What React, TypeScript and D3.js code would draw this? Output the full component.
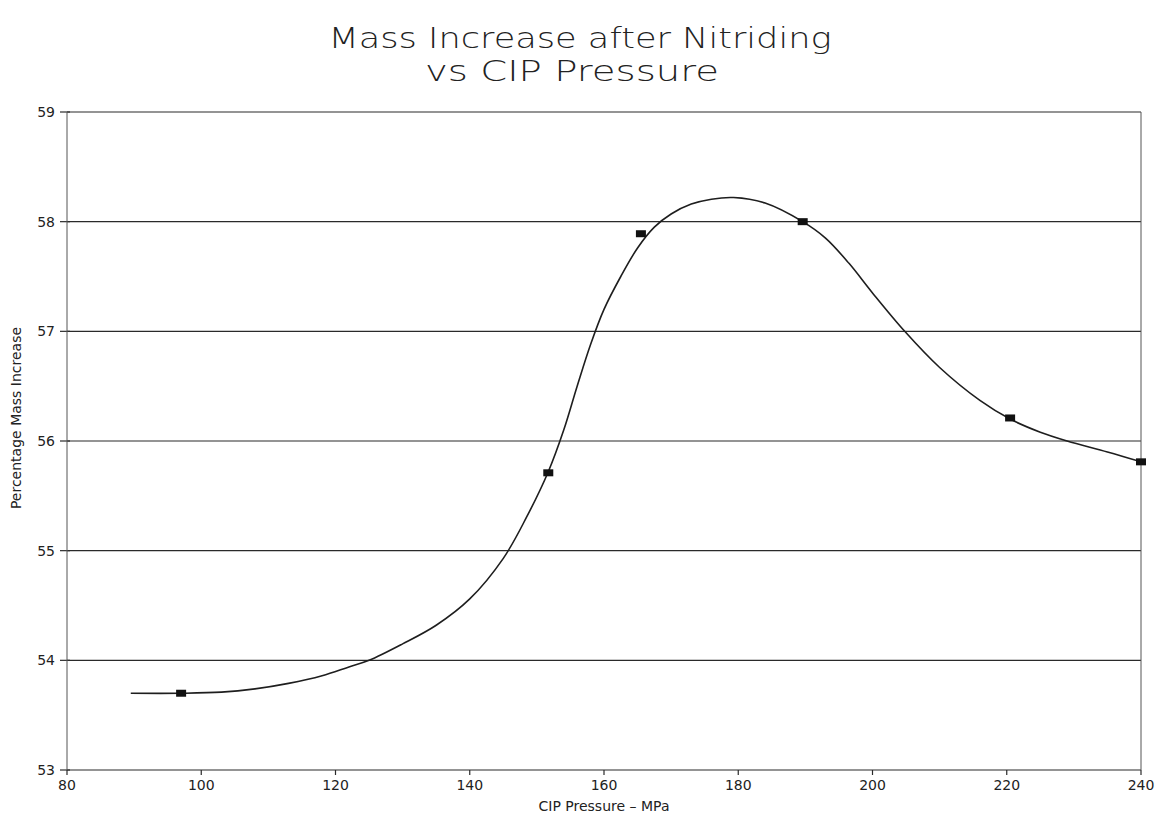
import React from "react";
import * as d3 from "d3";

// Measured samples (CIP pressure in MPa, mass increase in %)
const samplePressure = [97, 151.7, 165.5, 189.6, 220.5, 240];
const sampleMass = [53.7, 55.71, 57.89, 58.0, 56.21, 55.81];

// Smoothed fit curve drawn through the samples
const fitPressure = [
  89.5, 97, 103, 108, 113, 118, 122, 125, 130, 135, 140, 145, 148.5, 151.7,
  154, 156, 158, 160, 162.5, 165, 167.5, 170, 173, 176, 179.3, 184, 189.6,
  193, 196.5, 200, 204.8, 210, 216, 220.5, 225, 229, 235, 240,
];
const fitMass = [
  53.7, 53.7, 53.71, 53.74, 53.79, 53.86, 53.94, 54.0, 54.15, 54.32, 54.56,
  54.93, 55.31, 55.72, 56.1, 56.5, 56.88, 57.2, 57.5, 57.76, 57.95, 58.07,
  58.16, 58.205, 58.22, 58.17, 58.0, 57.85, 57.62, 57.35, 57.0, 56.67, 56.37,
  56.2, 56.08, 56.0, 55.9, 55.81,
];

const xTicks = [80, 100, 120, 140, 160, 180, 200, 220, 240];
const yTicks = [53, 54, 55, 56, 57, 58, 59];

const titleLines = ["Mass Increase after Nitriding", "vs CIP Pressure"];
const xTitle = "CIP Pressure \u2013 MPa";
const yTitle = "Percentage Mass Increase";

const W = 1164;
const H = 824;
const left = 67;
const right = 1141;
const top = 112;
const bottom = 770;

export default function App() {
  const x = d3.scaleLinear().domain([80, 240]).range([left, right]);
  const y = d3.scaleLinear().domain([53, 59]).range([bottom, top]);

  const fit = fitPressure.map((p, i) => [p, fitMass[i]] as [number, number]);
  const line = d3
    .line<[number, number]>()
    .x((d) => x(d[0]))
    .y((d) => y(d[1]))
    .curve(d3.curveCatmullRom.alpha(0.5));

  const ink = "#2a2a2a";
  const font = "'DejaVu Sans', 'Liberation Sans', sans-serif";

  return (
    <svg
      width={W}
      height={H}
      viewBox={`0 0 ${W} ${H}`}
      style={{ position: "absolute", left: 0, top: 0, background: "#fff" }}
    >
      {/* title */}
      <g fontFamily={font} fill="#222" textAnchor="middle" fontSize={29}>
        <text x={580} y={48} textLength={503} lengthAdjust="spacingAndGlyphs" fontWeight={300}>
          {titleLines[0]}
        </text>
        <text x={572} y={81} textLength={294} lengthAdjust="spacingAndGlyphs" fontWeight={300}>
          {titleLines[1]}
        </text>
      </g>

      {/* horizontal grid lines */}
      {yTicks.map((t) => (
        <g key={`y${t}`}>
          <line x1={left} x2={right} y1={y(t)} y2={y(t)} stroke={ink} strokeWidth={1.2} />
          <line x1={left - 7} x2={left + 3} y1={y(t)} y2={y(t)} stroke={ink} strokeWidth={1.2} />
          <text
            x={left - 12}
            y={y(t)}
            dy="0.35em"
            textAnchor="end"
            fontFamily={font}
            fontSize={14}
            fill="#222"
          >
            {t}
          </text>
        </g>
      ))}

      {/* vertical frame */}
      <line x1={left} x2={left} y1={top} y2={bottom} stroke="#555" strokeWidth={1} />
      <line x1={right} x2={right} y1={top} y2={bottom} stroke="#555" strokeWidth={1} />

      {/* x ticks */}
      {xTicks.map((t) => (
        <g key={`x${t}`}>
          <line x1={x(t)} x2={x(t)} y1={bottom} y2={bottom + 5} stroke={ink} strokeWidth={1.2} />
          <text
            x={x(t)}
            y={790}
            textAnchor="middle"
            fontFamily={font}
            fontSize={14}
            fill="#222"
          >
            {t}
          </text>
        </g>
      ))}

      {/* axis titles */}
      <text
        x={604}
        y={811}
        textAnchor="middle"
        fontFamily={font}
        fontSize={14}
        fill="#222"
      >
        {xTitle}
      </text>
      <text
        transform={`translate(21, 418) rotate(-90)`}
        textAnchor="middle"
        fontFamily={font}
        fontSize={14}
        fill="#222"
      >
        {yTitle}
      </text>

      {/* fitted curve */}
      <path d={line(fit) || ""} fill="none" stroke="#1e1e1e" strokeWidth={1.6} />

      {/* data markers */}
      {samplePressure.map((p, i) => (
        <rect
          key={`m${i}`}
          x={x(p) - 5}
          y={y(sampleMass[i]) - 3.5}
          width={10}
          height={7}
          fill="#111"
        />
      ))}
    </svg>
  );
}
